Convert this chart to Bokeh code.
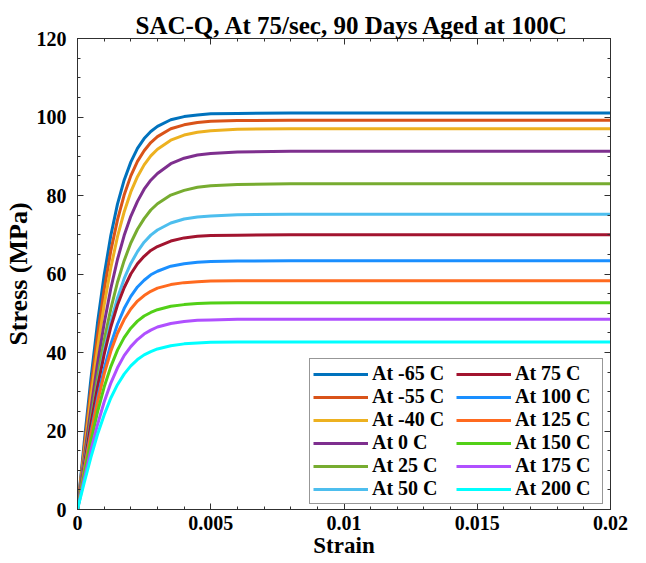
from bokeh.plotting import figure
from bokeh.models import (LinearAxis, FixedTicker, CustomJSTickFormatter, Legend,
                          LegendItem, Range1d)
from bokeh.embed import file_html
from bokeh.resources import INLINE

# ---------------- data ----------------
strain = [0, 0.00025, 0.0005, 0.00075, 0.001, 0.00125, 0.0015, 0.00175, 0.002,
          0.00225, 0.0025, 0.00275, 0.003, 0.0035, 0.004, 0.0045, 0.005, 0.006,
          0.008, 0.01, 0.015, 0.02]

labels = ["At -65 C", "At -55 C", "At -40 C", "At 0 C", "At 25 C", "At 50 C",
          "At 75 C", "At 100 C", "At 125 C", "At 150 C", "At 175 C", "At 200 C"]

colors = ["#0072BD", "#D95319", "#EDB120", "#7E2F8E", "#77AC30", "#4DBEEE",
          "#A2142F", "#1A8FFF", "#FF6A1F", "#52D017", "#B050FF", "#00FFFF"]

stress_m65 = [0, 17.0, 33.1, 47.5, 59.7, 69.8, 77.8, 83.9, 88.5, 92.0, 94.5, 96.3,
              97.6, 99.3, 100.1, 100.5, 100.8, 100.9, 101.0, 101.0, 101.0, 101.0]
stress_m55 = [0, 15.7, 30.7, 44.3, 56.0, 65.9, 73.8, 80.1, 85.0, 88.7, 91.4, 93.5,
              95.0, 97.0, 98.0, 98.6, 98.9, 99.1, 99.2, 99.2, 99.2, 99.2]
stress_m40 = [0, 14.4, 28.3, 40.9, 52.1, 61.6, 69.5, 75.8, 80.9, 84.8, 87.8, 90.1,
              91.8, 94.1, 95.4, 96.1, 96.5, 96.9, 97.0, 97.0, 97.0, 97.0]
stress_0 = [0, 13.1, 25.5, 37.1, 47.4, 56.3, 63.7, 69.8, 74.7, 78.5, 81.6, 83.9,
            85.6, 88.1, 89.5, 90.3, 90.7, 91.1, 91.3, 91.3, 91.3, 91.3]
stress_25 = [0, 11.9, 23.2, 33.7, 43.1, 51.1, 57.9, 63.4, 67.9, 71.4, 74.1, 76.3,
             77.9, 80.1, 81.3, 82.1, 82.5, 82.8, 83.0, 83.0, 83.0, 83.0]
stress_50 = [0, 11.2, 21.9, 31.7, 40.4, 47.8, 53.9, 58.8, 62.7, 65.7, 68.1, 69.9,
             71.2, 73.0, 74.0, 74.5, 74.8, 75.1, 75.2, 75.2, 75.2, 75.2]
stress_75 = [0, 11.1, 21.7, 31.2, 39.5, 46.5, 52.1, 56.5, 60.0, 62.6, 64.5, 66.0,
             67.0, 68.4, 69.2, 69.6, 69.8, 69.9, 70.0, 70.0, 70.0, 70.0]
stress_100 = [0, 10.1, 19.6, 28.3, 35.8, 42.1, 47.2, 51.2, 54.3, 56.7, 58.4, 59.8,
              60.7, 62.0, 62.6, 63.0, 63.2, 63.3, 63.4, 63.4, 63.4, 63.4]
stress_125 = [0, 9.8, 19.1, 27.4, 34.5, 40.3, 44.9, 48.4, 51.1, 53.1, 54.5, 55.6,
              56.4, 57.3, 57.8, 58.0, 58.2, 58.3, 58.3, 58.3, 58.3, 58.3]
stress_150 = [0, 8.9, 17.3, 24.8, 31.2, 36.4, 40.6, 43.8, 46.2, 48.0, 49.3, 50.2,
              50.9, 51.8, 52.2, 52.5, 52.6, 52.7, 52.7, 52.7, 52.7, 52.7]
stress_175 = [0, 7.7, 15.0, 21.6, 27.4, 32.2, 36.1, 39.2, 41.5, 43.3, 44.7, 45.7,
              46.5, 47.4, 47.9, 48.2, 48.3, 48.5, 48.5, 48.5, 48.5, 48.5]
stress_200 = [0, 6.8, 13.2, 19.1, 24.1, 28.4, 31.8, 34.5, 36.6, 38.2, 39.4, 40.2,
              40.9, 41.7, 42.2, 42.4, 42.6, 42.7, 42.7, 42.7, 42.7, 42.7]

series = [stress_m65, stress_m55, stress_m40, stress_0, stress_25, stress_50,
          stress_75, stress_100, stress_125, stress_150, stress_175, stress_200]

x_ticks = [0, 0.005, 0.01, 0.015, 0.02]
x_minor = [0, 0.001, 0.002, 0.003, 0.004, 0.005, 0.006, 0.007, 0.008, 0.009, 0.01,
           0.011, 0.012, 0.013, 0.014, 0.015, 0.016, 0.017, 0.018, 0.019, 0.02]
y_ticks = [0, 20, 40, 60, 80, 100, 120]
y_minor = [0, 5, 10, 15, 20, 25, 30, 35, 40, 45, 50, 55, 60, 65, 70, 75, 80, 85,
           90, 95, 100, 105, 110, 115, 120]

TITLE = "SAC-Q, At 75/sec, 90 Days Aged at 100C"
FONT = "Liberation Serif"
AX_COLOR = "#303030"

# ---------------- figure ----------------
p = figure(frame_width=533, frame_height=471,
           x_range=Range1d(0, 0.02), y_range=Range1d(0, 120),
           output_backend="svg", toolbar_location=None,
           min_border_left=77, min_border_right=30,
           min_border_top=38, min_border_bottom=52,
           background_fill_color="white", border_fill_color="white")

p.title.text = TITLE
p.title.align = "left"
p.title.text_font = FONT
p.title.text_font_size = "25px"
p.title.text_font_style = "bold"
p.title.text_color = "black"
p.title.standoff = 0
p.title.offset = 58

p.xgrid.visible = False
p.ygrid.visible = False
p.outline_line_color = AX_COLOR
p.outline_line_width = 1

renderers = []
for ys, c in zip(series, colors):
    r = p.line(strain, ys, line_width=3, line_color=c)
    renderers.append(r)

xt = FixedTicker(ticks=x_ticks, minor_ticks=x_minor)
yt = FixedTicker(ticks=y_ticks, minor_ticks=y_minor)

fmt_x = CustomJSTickFormatter(code="return String(tick);")
blank = CustomJSTickFormatter(code="return '';")


def style_axis(ax):
    ax.axis_line_color = AX_COLOR
    ax.major_tick_line_color = AX_COLOR
    ax.minor_tick_line_color = AX_COLOR
    ax.major_tick_in = 6
    ax.major_tick_out = 0
    ax.minor_tick_in = 3
    ax.minor_tick_out = 0
    ax.major_label_text_font = FONT
    ax.major_label_text_font_style = "bold"
    ax.major_label_text_color = "black"
    ax.axis_label_text_font = FONT
    ax.axis_label_text_font_style = "bold"
    ax.axis_label_text_color = "black"


xa = p.xaxis[0]
xa.ticker = xt
xa.formatter = fmt_x
style_axis(xa)
xa.major_label_text_font_size = "20px"
xa.major_label_standoff = 6
xa.axis_label = "Strain"
xa.axis_label_text_font_size = "23px"
xa.axis_label_standoff = 0

ya = p.yaxis[0]
ya.ticker = yt
style_axis(ya)
ya.major_label_text_font_size = "20px"
ya.major_label_standoff = 11
ya.axis_label = "Stress (MPa)"
ya.axis_label_text_font_size = "26px"
ya.axis_label_standoff = 1

top = LinearAxis(ticker=FixedTicker(ticks=x_ticks, minor_ticks=x_minor),
                 formatter=blank)
style_axis(top)
top.major_label_text_font_size = "1px"
top.major_label_standoff = 0
p.add_layout(top, "above")

right = LinearAxis(ticker=FixedTicker(ticks=y_ticks, minor_ticks=y_minor),
                   formatter=blank)
style_axis(right)
right.major_label_text_font_size = "1px"
right.major_label_standoff = 0
p.add_layout(right, "right")

items = [LegendItem(label=lab, renderers=[r]) for lab, r in zip(labels, renderers)]
legend = Legend(items=items, location=(232, 5), ncols=2)
legend.label_text_font = FONT
legend.label_text_font_style = "bold"
legend.label_text_font_size = "20px"
legend.label_text_color = "black"
legend.glyph_width = 55
legend.glyph_height = 20
legend.label_standoff = 4
legend.label_height = 20
legend.label_width = 84
legend.spacing = 0
legend.padding = 3
legend.margin = 0
legend.border_line_color = AX_COLOR
legend.border_line_width = 1
legend.background_fill_color = "white"
legend.background_fill_alpha = 1
p.add_layout(legend, "center")

open("out.html", "w").write(file_html(p, INLINE))
